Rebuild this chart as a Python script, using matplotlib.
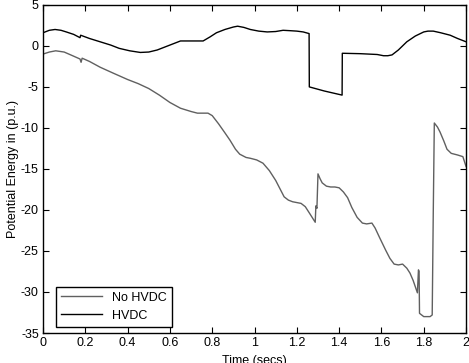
import numpy as np
import matplotlib
matplotlib.use('Agg')
import matplotlib.pyplot as plt

plt.rcParams['font.family'] = ['Liberation Sans', 'DejaVu Sans']
plt.rcParams['axes.unicode_minus'] = False

# No HVDC (lower, grey curve)
t_no = [0.0, 0.03, 0.06, 0.10, 0.14, 0.175, 0.18, 0.185, 0.22, 0.27, 0.33, 0.40, 0.45, 0.50,
        0.55, 0.60, 0.65, 0.70, 0.73, 0.76, 0.78, 0.80, 0.83, 0.86,
        0.884, 0.91, 0.93, 0.96, 0.98, 1.01, 1.04, 1.07, 1.09, 1.10, 1.12, 1.14, 1.16, 1.18,
        1.22, 1.24, 1.26, 1.287, 1.29, 1.295, 1.30, 1.31, 1.32, 1.34, 1.36, 1.38, 1.40, 1.42,
        1.44, 1.46, 1.485, 1.51, 1.53, 1.555, 1.57, 1.59, 1.62, 1.64, 1.66, 1.68, 1.70, 1.72,
        1.735, 1.75, 1.77, 1.775, 1.778, 1.78, 1.80, 1.83, 1.84, 1.845, 1.85, 1.865, 1.877,
        1.895, 1.91, 1.93, 1.96, 1.985, 2.0]
e_no = [-1.0, -0.75, -0.6, -0.75, -1.2, -1.6, -2.0, -1.5, -1.9, -2.6, -3.3, -4.1, -4.6, -5.2,
        -6.0, -6.9, -7.6, -8.0, -8.2, -8.2, -8.2, -8.5, -9.5, -10.6,
        -11.5, -12.6, -13.2, -13.6, -13.7, -13.9, -14.3, -15.2, -16.0, -16.4, -17.4, -18.4, -18.8, -19.0,
        -19.2, -19.6, -20.4, -21.5, -19.5, -19.8, -15.6, -16.2, -16.7, -17.1, -17.2, -17.2, -17.3, -17.8,
        -18.5, -19.7, -20.9, -21.6, -21.7, -21.6, -22.2, -23.3, -24.9, -25.9, -26.6, -26.7, -26.6, -27.1,
        -27.7, -28.6, -30.1, -27.3, -27.5, -32.6, -33.0, -33.0, -32.8, -20.4, -9.4, -9.9, -10.5,
        -11.6, -12.6, -13.1, -13.3, -13.5, -14.7]

# HVDC (upper, black curve)
t_hv = [0.0, 0.03, 0.057, 0.085, 0.11, 0.145, 0.175, 0.178, 0.22, 0.27, 0.32, 0.36, 0.41,
        0.46, 0.50, 0.54, 0.59, 0.65, 0.70, 0.757, 0.79, 0.82, 0.86, 0.90,
        0.92, 0.95, 0.98, 1.02, 1.06, 1.10, 1.135, 1.17, 1.20, 1.23, 1.258, 1.259, 1.33, 1.414,
        1.415, 1.50, 1.58, 1.61, 1.63, 1.65, 1.68, 1.72, 1.76, 1.80, 1.82,
        1.845, 1.88, 1.925, 1.96, 2.0]
e_hv = [1.6, 1.9, 2.0, 1.9, 1.7, 1.4, 1.0, 1.3, 0.9, 0.5, 0.1, -0.3, -0.6,
        -0.8, -0.75, -0.5, 0.0, 0.6, 0.6, 0.6, 1.1, 1.6, 2.0, 2.3,
        2.4, 2.25, 2.0, 1.8, 1.7, 1.75, 1.9, 1.85, 1.8, 1.7, 1.5, -5.0, -5.5, -6.0,
        -0.9, -0.95, -1.05, -1.2, -1.2, -1.1, -0.5, 0.5, 1.2, 1.7, 1.8,
        1.8, 1.6, 1.3, 0.9, 0.5]

fig = plt.figure(figsize=(4.69, 3.63), dpi=100)
ax = fig.add_axes([0.0917, 0.0826, 0.902, 0.904])

ax.plot(t_no, e_no, color='#606060', lw=1.0, label='No HVDC')
ax.plot(t_hv, e_hv, color='black', lw=1.0, label='HVDC')

ax.set_xlim(0, 2)
ax.set_ylim(-35, 5)
ax.set_xticks(np.arange(0, 2.01, 0.2))
ax.set_xticklabels(['0', '0.2', '0.4', '0.6', '0.8', '1', '1.2', '1.4', '1.6', '1.8', '2'])
ax.set_yticks(range(-35, 6, 5))
ax.tick_params(direction='in', length=4, labelsize=9, top=True, right=True, pad=3)
for s in ax.spines.values():
    s.set_linewidth(1.0)

ax.set_xlabel('Time (secs)', fontsize=9, labelpad=4)
ax.set_ylabel('Potential Energy in (p.u.)', fontsize=9, labelpad=1)

leg = ax.legend(loc='lower left', fontsize=9, fancybox=False, edgecolor='black',
                framealpha=1, handlelength=3.3, borderaxespad=0.5,
                bbox_to_anchor=(0.015, 0.0))
leg.get_frame().set_linewidth(1.0)

fig.savefig('out.png', dpi=100)
